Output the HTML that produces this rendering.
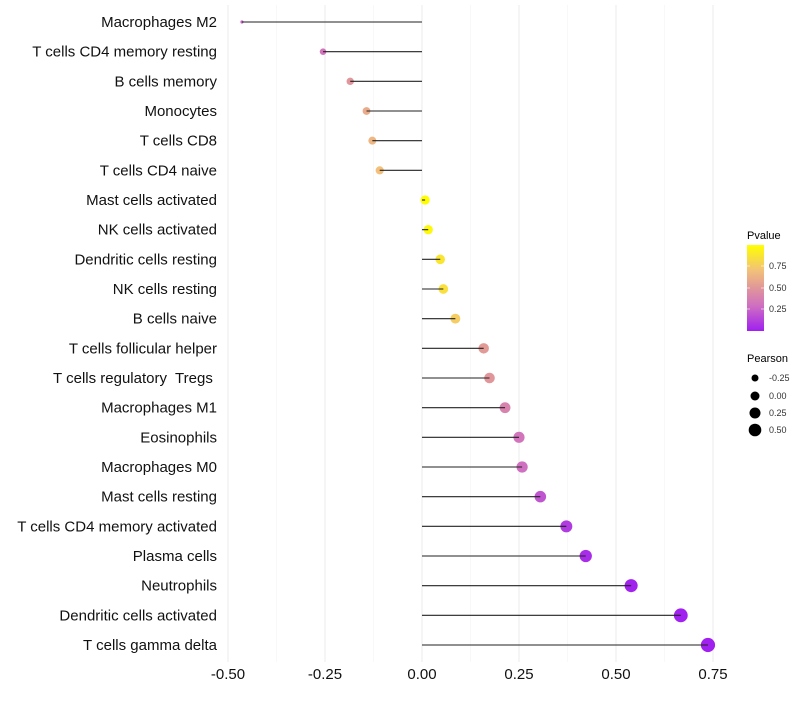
<!DOCTYPE html>
<html><head><meta charset="utf-8"><style>
body{margin:0;background:#fff;}
svg text{font-family:"Liberation Sans",sans-serif;white-space:pre;}
</style></head><body>
<svg id="chart" width="800" height="700" xmlns="http://www.w3.org/2000/svg">
<defs><linearGradient id="pg" x1="0" y1="1" x2="0" y2="0">
<stop offset="0" stop-color="#A020F0"/><stop offset="0.3" stop-color="#D070C0"/><stop offset="0.5" stop-color="#E0969A"/><stop offset="0.7" stop-color="#F2C07A"/><stop offset="1" stop-color="#FFFF00"/></linearGradient></defs>
<g id="grid"></g><g id="points"></g><g id="stems"></g><g id="ylabels"></g><g id="xlabels"></g>
<g id="legend">
<text x="747" y="239" font-size="11">Pvalue</text>
<rect x="747" y="245" width="17" height="86" fill="url(#pg)"/>
<g stroke="#fff" stroke-opacity="0.6"><line x1="747" x2="750" y1="266" y2="266"/><line x1="761" x2="764" y1="266" y2="266"/><line x1="747" x2="750" y1="288" y2="288"/><line x1="761" x2="764" y1="288" y2="288"/><line x1="747" x2="750" y1="309" y2="309"/><line x1="761" x2="764" y1="309" y2="309"/></g>
<g font-size="9" fill="#333"><text x="769" y="269">0.75</text><text x="769" y="291">0.50</text><text x="769" y="312">0.25</text></g>
<text x="747" y="362" font-size="11">Pearson</text>
<g fill="#000"><circle cx="755" cy="378" r="3.5"/><circle cx="755" cy="396" r="4.5"/><circle cx="755" cy="413" r="5.5"/><circle cx="755" cy="430" r="6.3"/></g>
<g font-size="9" fill="#333"><text x="769" y="381">-0.25</text><text x="769" y="399">0.00</text><text x="769" y="416">0.25</text><text x="769" y="433">0.50</text></g>
</g>
</svg>
<script>
const categories=["Macrophages M2","T cells CD4 memory resting","B cells memory","Monocytes","T cells CD8","T cells CD4 naive","Mast cells activated","NK cells activated","Dendritic cells resting","NK cells resting","B cells naive","T cells follicular helper","T cells regulatory  Tregs ","Macrophages M1","Eosinophils","Macrophages M0","Mast cells resting","T cells CD4 memory activated","Plasma cells","Neutrophils","Dendritic cells activated","T cells gamma delta"];
const pearson=[-0.464,-0.255,-0.185,-0.143,-0.128,-0.109,0.008,0.016,0.047,0.055,0.086,0.159,0.174,0.214,0.25,0.258,0.305,0.372,0.422,0.539,0.667,0.737];
const pvalue=[0.25,0.32,0.5,0.6,0.65,0.7,0.99,0.97,0.88,0.85,0.76,0.52,0.5,0.4,0.32,0.3,0.2,0.1,0.05,0.01,0.002,0.0];
const xticks=[-0.5,-0.25,0,0.25,0.5,0.75];
const xtickLabels=["-0.50","-0.25","0.00","0.25","0.50","0.75"];
const NS="http://www.w3.org/2000/svg";
const xs=v=>422+v*388;
const ys=i=>22+i*(645-22)/(categories.length-1);
function mk(t,a,p){const e=document.createElementNS(NS,t);for(const k in a)e.setAttribute(k,a[k]);p.appendChild(e);return e;}
const stops=[[0,[160,32,240]],[0.3,[208,112,192]],[0.5,[224,150,154]],[0.7,[242,192,122]],[1,[255,255,0]]];
function col(p){for(let i=1;i<stops.length;i++){if(p<=stops[i][0]){const a=stops[i-1],b=stops[i],t=(p-a[0])/(b[0]-a[0]);return "rgb("+a[1].map((c,j)=>Math.round(c+(b[1][j]-c)*t)).join(",")+")";}}return "rgb(255,255,0)";}
const mn=Math.min(...pearson);
const rs=v=>Math.sqrt(2.5+40*(v-mn));
const grid=document.getElementById('grid'),pts=document.getElementById('points'),stems=document.getElementById('stems'),yl=document.getElementById('ylabels'),xl=document.getElementById('xlabels');
for(let i=0;i<xticks.length-1;i++){const m=(xticks[i]+xticks[i+1])/2;const g=mk('line',{x1:xs(m),x2:xs(m),y1:5,y2:662,stroke:'#f3f3f3','stroke-width':0.6},grid);

}
xticks.forEach((t,i)=>{const g=mk('line',{x1:xs(t),x2:xs(t),y1:5,y2:662,stroke:'#ebebeb','stroke-width':1},grid);


const tx=mk('text',{x:xs(t),y:679,'font-size':15,'text-anchor':'middle',fill:'#111'},xl);tx.textContent=xtickLabels[i];

});
categories.forEach((c,i)=>{const y=ys(i);
const d=mk('circle',{cx:xs(pearson[i]),cy:y,r:rs(pearson[i]),fill:col(pvalue[i])},pts);


const l=mk('line',{x1:xs(0),x2:xs(pearson[i]),y1:y,y2:y,stroke:'#222','stroke-width':1.1},stems);


const t=mk('text',{x:217,y:y+5,'font-size':15,'text-anchor':'end',fill:'#111'},yl);t.textContent=c;

});
</script>
</body></html>
